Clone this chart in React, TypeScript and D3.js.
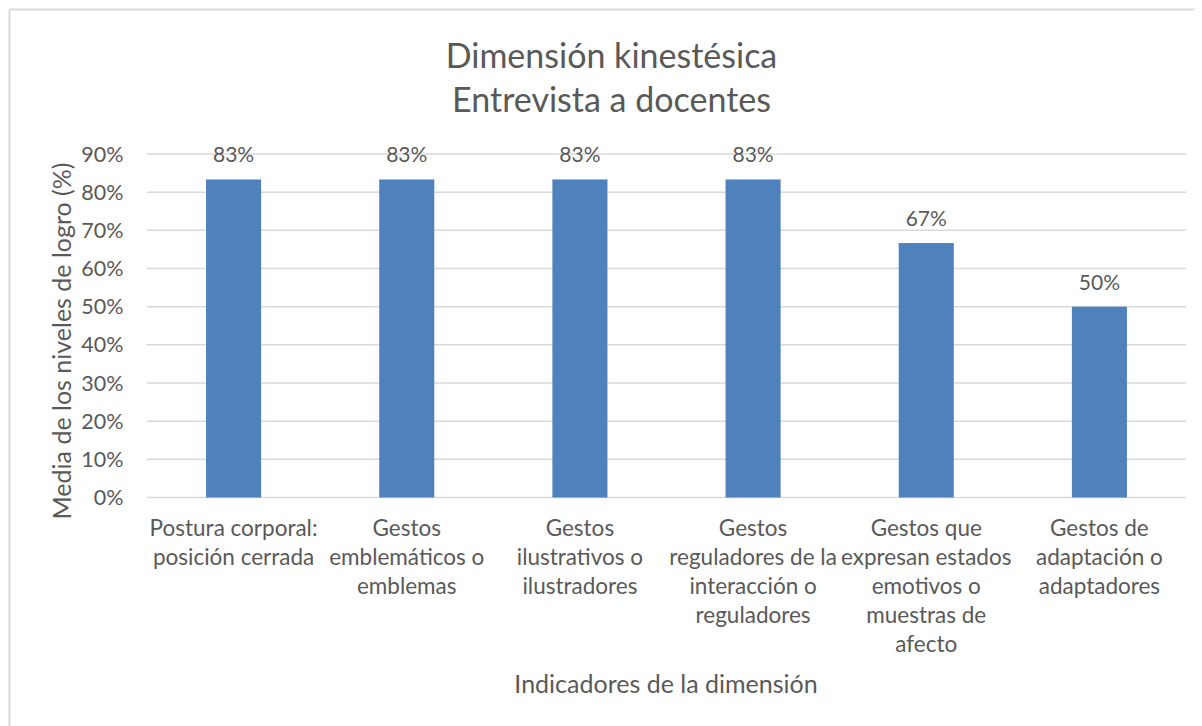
import React from "react";
import * as d3 from "d3";

const categories: string[][] = [
  ["Postura corporal:", "posición cerrada"],
  ["Gestos", "emblemáticos o", "emblemas"],
  ["Gestos", "ilustrativos o", "ilustradores"],
  ["Gestos", "reguladores de la", "interacción o", "reguladores"],
  ["Gestos que", "expresan estados", "emotivos o", "muestras de", "afecto"],
  ["Gestos de", "adaptación o", "adaptadores"],
];
const values: number[] = [83.33, 83.33, 83.33, 83.33, 66.67, 50];
const dataLabels: string[] = ["83%", "83%", "83%", "83%", "67%", "50%"];
const yTicks: number[] = [0, 10, 20, 30, 40, 50, 60, 70, 80, 90];
const titleLines: string[] = ["Dimensión kinestésica", "Entrevista a docentes"];
const xTitle = "Indicadores de la dimensión";
const yTitle = "Media de los niveles de logro (%)";

const W = 1186;
const H = 718;
const OX = 8;
const OY = 8;
const FONT = "Lato, 'Open Sans', sans-serif";
const TXT = "#595959";

export default function App() {
  const plotL = 147 - OX;
  const plotR = 1186 - OX;
  const y0 = 497.5 - OY;
  const y90 = 154 - OY;
  const x = d3
    .scaleBand<number>()
    .domain(d3.range(categories.length))
    .range([plotL, plotR])
    .paddingInner(0.682)
    .paddingOuter(0.341);
  const xc = d3
    .scaleBand<number>()
    .domain(d3.range(categories.length))
    .range([plotL, plotR]);
  const y = d3.scaleLinear().domain([0, 90]).range([y0, y90]);

  return (
    <svg width={W} height={H} style={{ display: "block" }} fontFamily={FONT}>
      <rect x={0} y={0} width={W} height={H} fill="#fff" />
      <line x1={1.5} y1={1.5} x2={W} y2={1.5} stroke="#d9d9d9" strokeWidth={2} />
      <line x1={1.5} y1={1.5} x2={1.5} y2={H} stroke="#d9d9d9" strokeWidth={2} />
      {titleLines.map((t, i) => (
        <text
          key={t}
          x={611.5 - OX}
          y={68 - OY + i * 44}
          textAnchor="middle"
          fontSize={34}
          fill={TXT}
        >
          {t}
        </text>
      ))}
      {yTicks.map((t) => (
        <g key={t}>
          <line
            x1={plotL}
            x2={plotR}
            y1={y(t)}
            y2={y(t)}
            stroke="#d9d9d9"
            strokeWidth={1.5}
          />
          <text
            x={123.5 - OX}
            y={y(t) + 7.5}
            textAnchor="end"
            fontSize={21.5}
            fill={TXT}
          >
            {t}%
          </text>
        </g>
      ))}
      {values.map((v, i) => (
        <g key={i}>
          <rect
            x={x(i)}
            y={y(v)}
            width={x.bandwidth()}
            height={y0 - y(v)}
            fill="#4f81bd"
          />
          <text
            x={(x(i) as number) + x.bandwidth() / 2}
            y={y(v) - 17}
            textAnchor="middle"
            fontSize={21}
            fill={TXT}
          >
            {dataLabels[i]}
          </text>
        </g>
      ))}
      {categories.map((lines, i) => (
        <text
          key={i}
          x={(xc(i) as number) + xc.bandwidth() / 2}
          textAnchor="middle"
          fontSize={22.5}
          fill={TXT}
        >
          {lines.map((l, j) => (
            <tspan key={j} x={(xc(i) as number) + xc.bandwidth() / 2} y={536 - OY + j * 29}>
              {l}
            </tspan>
          ))}
        </text>
      ))}
      <text x={666 - OX} y={693 - OY} textAnchor="middle" fontSize={25} fill={TXT}>
        {xTitle}
      </text>
      <text
        transform={`translate(${71 - OX},${341 - OY}) rotate(-90)`}
        textAnchor="middle"
        fontSize={25}
        fill={TXT}
      >
        {yTitle}
      </text>
    </svg>
  );
}
